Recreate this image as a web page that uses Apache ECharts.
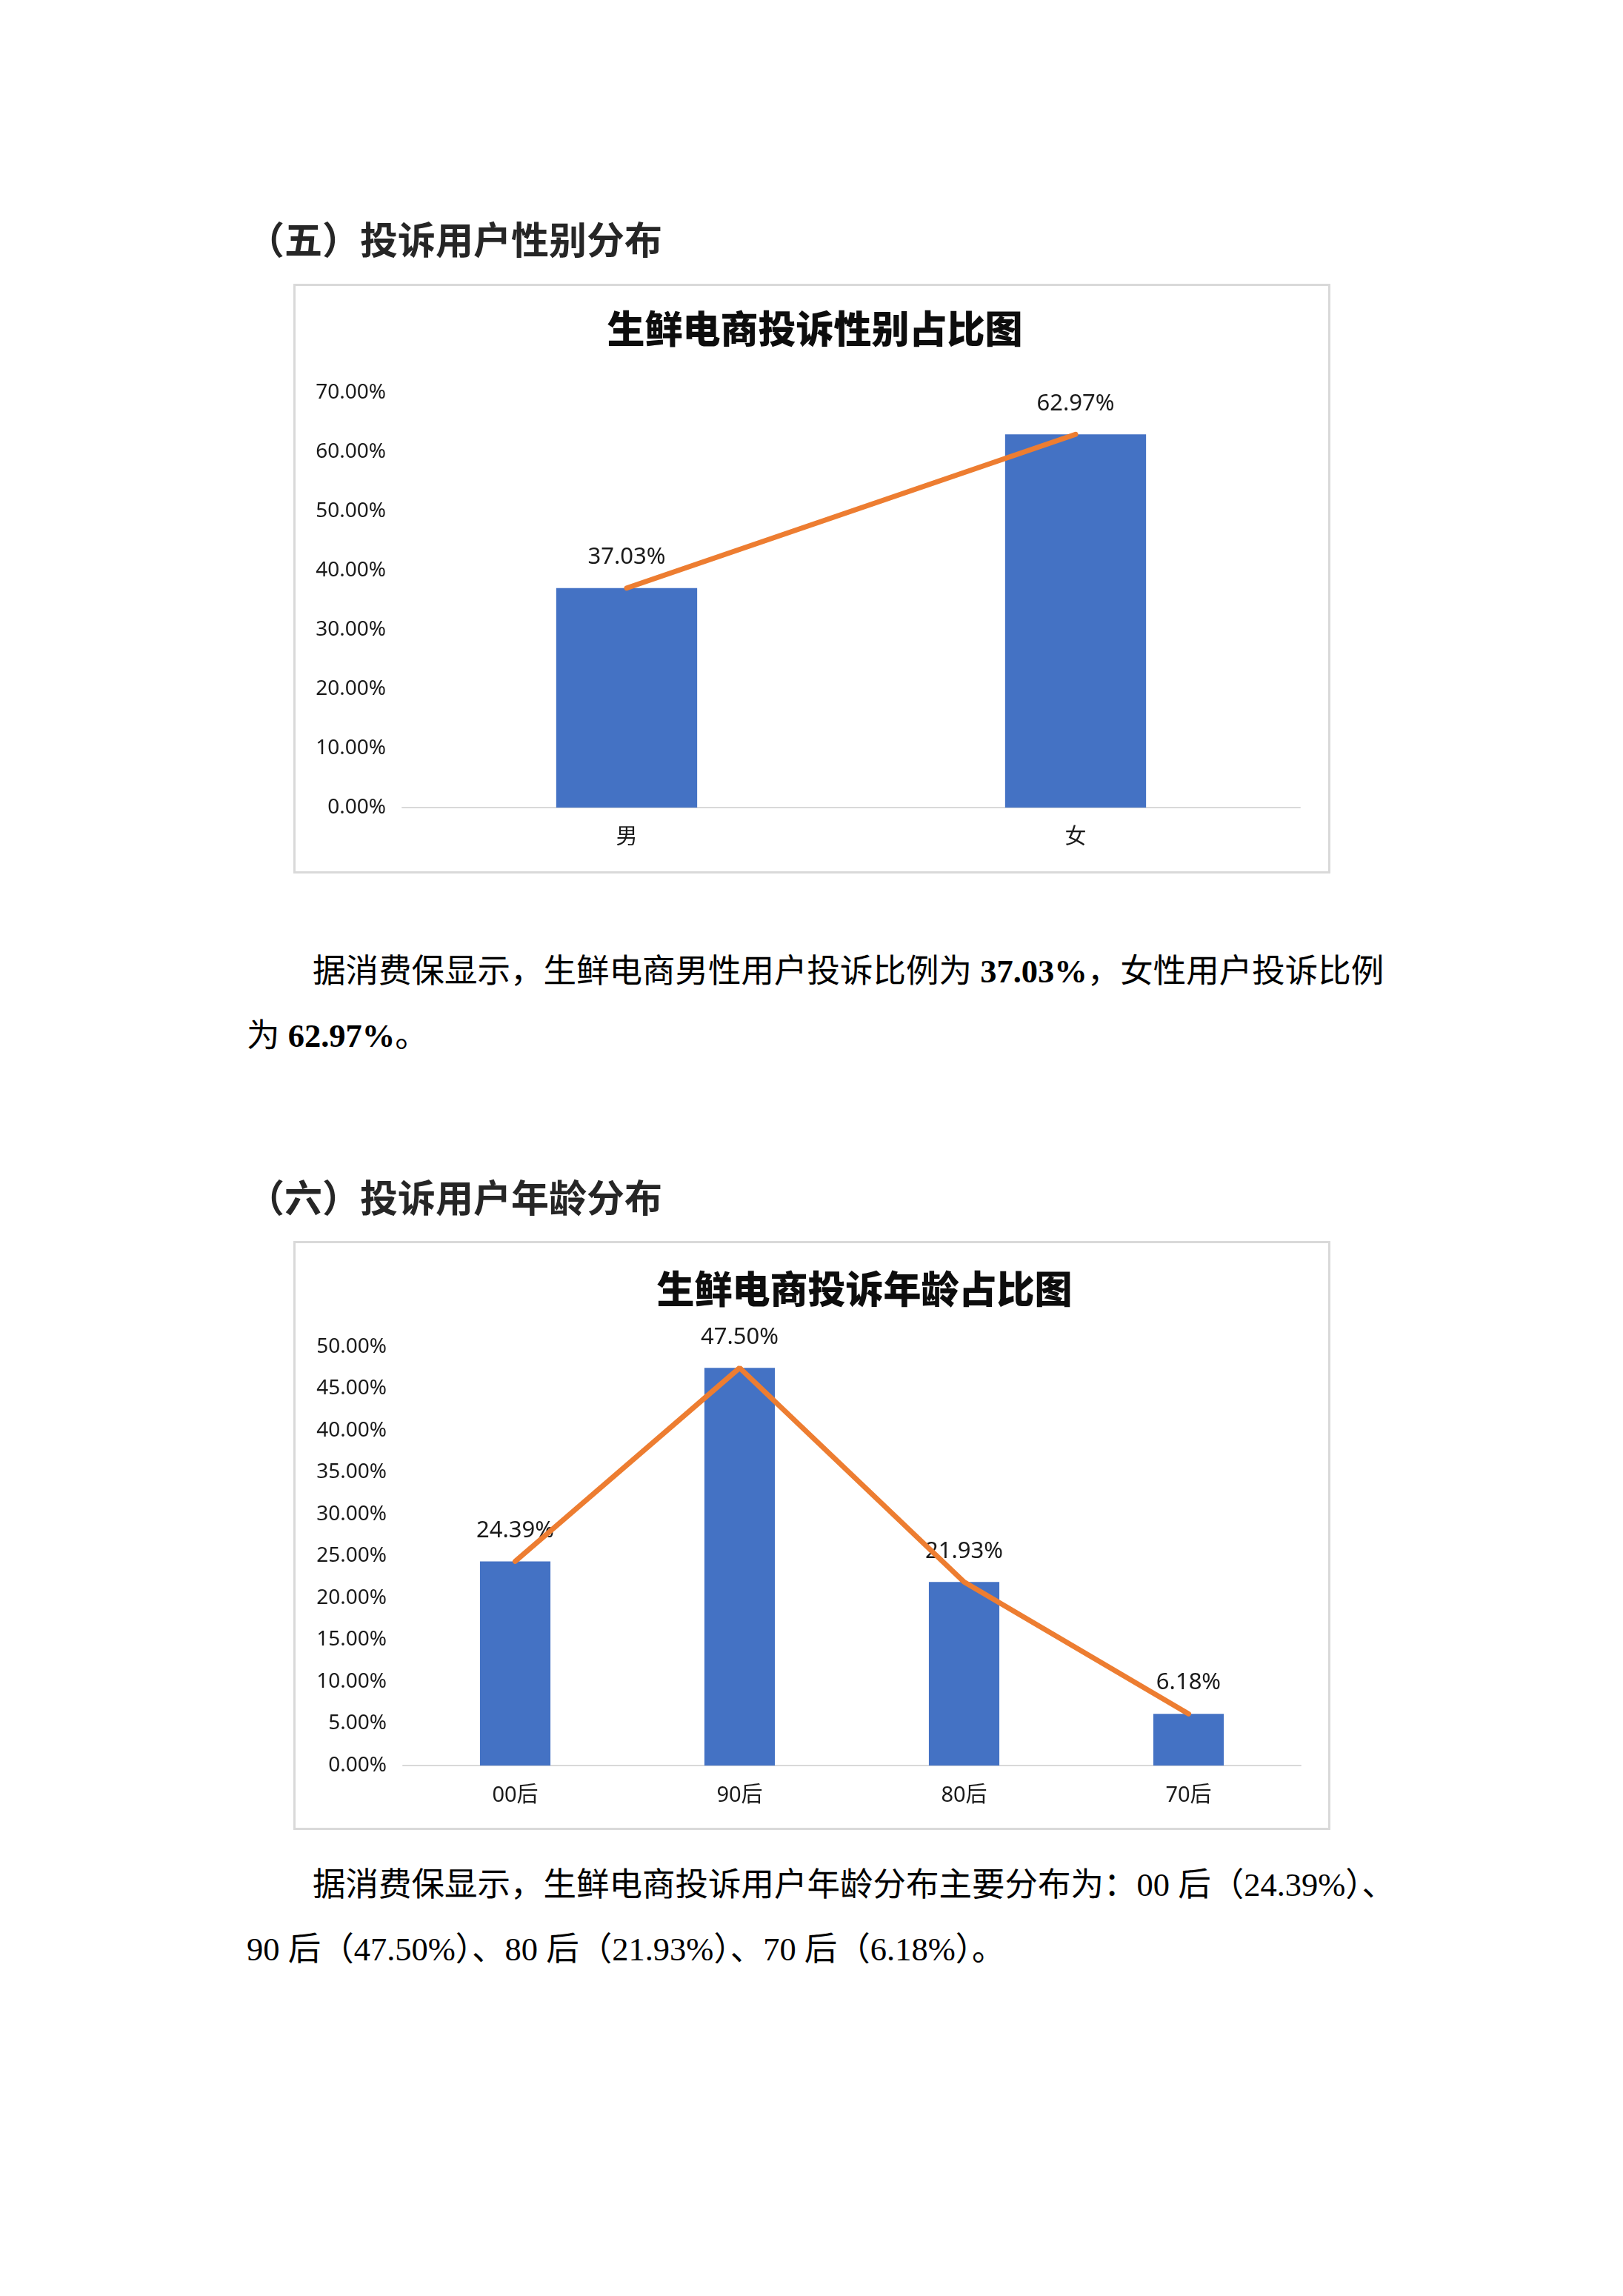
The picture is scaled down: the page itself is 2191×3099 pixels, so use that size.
<!DOCTYPE html>
<html lang="zh-CN">
<head>
<meta charset="utf-8">
<title>生鲜电商投诉用户分布</title>
<script src="https://cdn.jsdelivr.net/npm/echarts@6.0.0/dist/echarts.min.js"></script>
<style>
  html, body { margin: 0; padding: 0; background: #fff; }
  body { width: 2191px; height: 3099px; position: relative; overflow: hidden; }
  .h { position: absolute; left: 333px; font-family: "Noto Sans CJK SC", sans-serif; font-weight: 700;
       font-size: 51px; line-height: 51px; color: #262626; white-space: nowrap; }
  .p { position: absolute; left: 333px; font-family: "Liberation Serif", "Noto Sans CJK SC", serif;
       font-size: 44.5px; line-height: 44.5px; color: #000; white-space: nowrap; }
  .p.first { text-indent: 89px; width: 1531px; text-align: justify; text-align-last: justify; }
  .box { position: absolute; left: 396px; width: 1400px; border: 3px solid #d9d9d9; box-sizing: border-box; }
  .box > div { width: 100%; height: 100%; }
</style>
</head>
<body>

<div class="h" style="top:296px">（五）投诉用户性别分布</div>
<div class="box" style="top:383px;height:796px"><div id="chartGender"></div></div>
<div class="p first" style="top:1289px">据消费保显示，生鲜电商男性用户投诉比例为 <b>37.03%</b>，女性用户投诉比例</div>
<div class="p" style="top:1376px">为 <b>62.97%</b>。</div>

<div class="h" style="top:1589px">（六）投诉用户年龄分布</div>
<div class="box" style="top:1675px;height:795px"><div id="chartAge"></div></div>
<div class="p first" style="top:2522px">据消费保显示，生鲜电商投诉用户年龄分布主要分布为：00 后（24.39%）、</div>
<div class="p" style="top:2609px">90 后（47.50%）、80 后（21.93%）、70 后（6.18%）。</div>

<script>
// 性别分布
const genderCategories = ['男', '女'];
const genderValues = [37.03, 62.97];
const genderAxisMax = 70;
const genderAxisStep = 10;
const genderTitle = '生鲜电商投诉性别占比图';

// 年龄分布
const ageCategories = ['00后', '90后', '80后', '70后'];
const ageValues = [24.39, 47.50, 21.93, 6.18];
const ageAxisMax = 50;
const ageAxisStep = 5;
const ageTitle = '生鲜电商投诉年龄占比图';

const latinFont = '"Noto Sans", "Noto Sans CJK SC", sans-serif';
const cjkFont = '"Noto Sans CJK SC", sans-serif';
const barColor = '#4472C4';
const lineColor = '#ED7D31';
const textColor = '#1a1a1a';

function pct(v) {
  return Number(v).toFixed(2) + '%';
}

// 柱状 + 折线，两张图共用
function buildOption(cfg) {
  return {
    animation: false,
    grid: cfg.grid,
    graphic: [{
      type: 'text',
      x: cfg.titleX,
      y: cfg.titleY,
      style: {
        text: cfg.title,
        align: 'center',
        verticalAlign: 'middle',
        fontSize: 51,
        fontWeight: 900,
        fontFamily: cjkFont,
        fill: '#0d0d0d'
      }
    }],
    xAxis: {
      type: 'category',
      data: cfg.categories,
      axisLine: { lineStyle: { color: '#d9d9d9', width: 2 } },
      axisTick: { show: false },
      axisLabel: { margin: 26, fontSize: 29, color: textColor, fontFamily: latinFont }
    },
    yAxis: {
      type: 'value',
      min: 0,
      max: cfg.max,
      interval: cfg.step,
      splitLine: { show: false },
      axisLine: { show: false },
      axisTick: { show: false },
      axisLabel: { margin: 22, fontSize: 28, color: textColor, fontFamily: latinFont, formatter: pct }
    },
    series: [
      {
        type: 'bar',
        data: cfg.values,
        barWidth: '31.4%',
        itemStyle: { color: barColor },
        label: {
          show: true,
          position: 'top',
          distance: 26,
          fontSize: 31,
          color: textColor,
          fontFamily: latinFont,
          formatter: p => pct(p.value)
        }
      },
      {
        type: 'line',
        data: cfg.values,
        symbol: 'none',
        lineStyle: { color: lineColor, width: 7, cap: 'round' },
        z: 3
      }
    ]
  };
}

const genderChart = echarts.init(document.getElementById('chartGender'));
genderChart.setOption(buildOption({
  title: genderTitle,
  titleX: 701,
  titleY: 58,
  categories: genderCategories,
  values: genderValues,
  max: genderAxisMax,
  step: genderAxisStep,
  grid: { left: 144, right: 38, top: 144, bottom: 86, containLabel: false }
}));

const ageChart = echarts.init(document.getElementById('chartAge'));
ageChart.setOption(buildOption({
  title: ageTitle,
  titleX: 768,
  titleY: 62,
  categories: ageCategories,
  values: ageValues,
  max: ageAxisMax,
  step: ageAxisStep,
  grid: { left: 145, right: 37, top: 140, bottom: 84, containLabel: false }
}));
</script>
</body>
</html>
